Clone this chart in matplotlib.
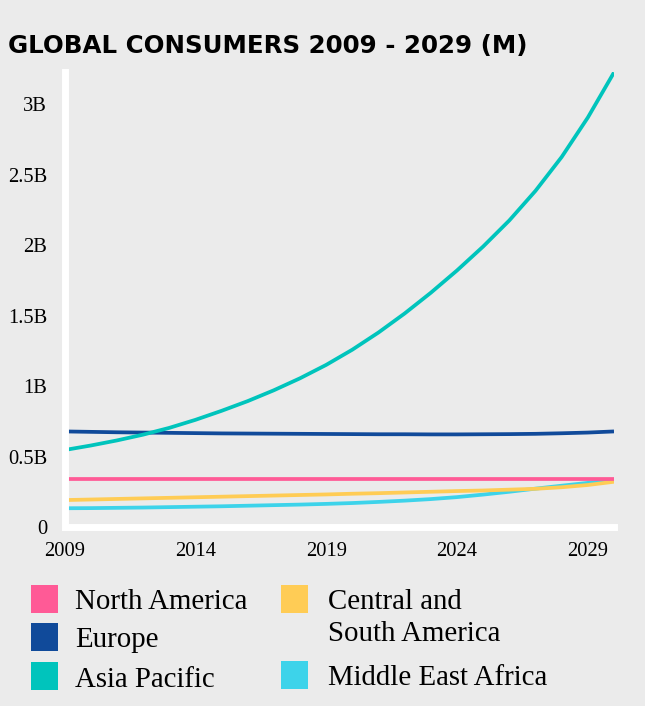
import matplotlib
matplotlib.use('Agg')
from matplotlib import pyplot as plt
from matplotlib import font_manager
from matplotlib.patches import Rectangle

# consumers in millions
years = list(range(2009, 2031))
north_america = [338, 338, 338, 338, 338, 338, 338, 338, 338, 338, 338,
                 338, 338, 338, 338, 338, 338, 338, 338, 338, 338, 338]
europe = [678, 675, 672, 670, 668, 666, 664, 663, 662, 661, 660,
          659, 658, 658, 657, 657, 658, 659, 661, 665, 670, 678]
asia_pacific = [546, 578, 614, 655, 703, 760, 824, 893, 970, 1055, 1150,
                1258, 1380, 1515, 1662, 1820, 1990, 2175, 2385, 2625, 2905, 3225]
central_south = [191, 195, 199, 203, 207, 211, 215, 219, 223, 227, 231,
                 236, 240, 245, 250, 255, 259, 265, 271, 282, 298, 321]
middle_east_africa = [133, 134, 136, 138, 141, 144, 147, 151, 155, 159, 164,
                      170, 178, 187, 198, 212, 230, 250, 272, 293, 313, 333]

names = ['North America', 'Europe', 'Asia Pacific',
         'Central and\nSouth America', 'Middle East Africa']
colors = ['#ff5a96', '#104a9a', '#00c4bc', '#ffcc55', '#3dd3ea']
series = [north_america, europe, asia_pacific, central_south, middle_east_africa]
draw_order = [4, 3, 0, 1, 2]

x_ticks = [2009, 2014, 2019, 2024, 2029]
y_ticks = [0, 500, 1000, 1500, 2000, 2500, 3000]
y_labels = ['0', '0.5B', '1B', '1.5B', '2B', '2.5B', '3B']

bg = '#ebebeb'
serif = ['Liberation Serif', 'DejaVu Serif']

installed = {f.name for f in font_manager.fontManager.ttflist}
title_font = 'DejaVu Sans'
for cand in ['DejaVu Sans Condensed', 'Liberation Sans Narrow']:
    if cand in installed:
        title_font = cand
        break

fig = plt.figure(figsize=(6.45, 7.06), dpi=100, facecolor=bg)
ax = fig.add_axes([64.5 / 645, 1 - 527 / 706, (614 - 64.5) / 645, (527 - 72) / 706])
ax.set_facecolor(bg)

for i in draw_order:
    ax.plot(years, series[i], color=colors[i], lw=2.7,
            solid_capstyle='butt', solid_joinstyle='round')

ax.set_xlim(2009, 2030)
ax.set_ylim(0, 3228)
ax.set_xticks(x_ticks)
ax.set_xticklabels([str(t) for t in x_ticks])
ax.set_yticks(y_ticks)
ax.set_yticklabels(y_labels)
for lab in ax.get_xticklabels() + ax.get_yticklabels():
    lab.set_family(serif)
    lab.set_fontsize(14.8)
ax.tick_params(axis='both', length=0, colors='black')
ax.tick_params(axis='y', pad=12.5)
ax.tick_params(axis='x', pad=11)

for s in ['top', 'right']:
    ax.spines[s].set_visible(False)
for s in ['left', 'bottom']:
    ax.spines[s].set_color('white')
    ax.spines[s].set_linewidth(5)

# title, fitted to the reference width
title = fig.text(8 / 645, 1 - 53 / 706, 'GLOBAL CONSUMERS 2009 - 2029 (M)',
                 family=title_font, fontweight='bold', fontsize=24,
                 va='baseline', ha='left', color='black')
fig.canvas.draw()
w = title.get_window_extent().width
title.set_fontsize(24 * 520 / w)

# legend laid out by hand in two columns
box_pos = [(31, 585), (31, 623), (31, 662), (281, 585), (281, 661)]
text_pos = [(75, 609), (75, 647), (75, 687), (328, 609), (328, 685)]
for i in range(len(names)):
    bx, by = box_pos[i]
    fig.patches.append(Rectangle((bx / 645, 1 - (by + 28) / 706), 27 / 645, 28 / 706,
                                 transform=fig.transFigure, facecolor=colors[i],
                                 edgecolor='none'))
    tx, ty = text_pos[i]
    lines = names[i].split('\n')
    for k, line in enumerate(lines):
        fig.text(tx / 645, 1 - (ty + 32 * k) / 706, line, family=serif,
                 fontsize=20.8, va='baseline', ha='left', color='black')

fig.savefig('out.png', dpi=100, facecolor=bg)
